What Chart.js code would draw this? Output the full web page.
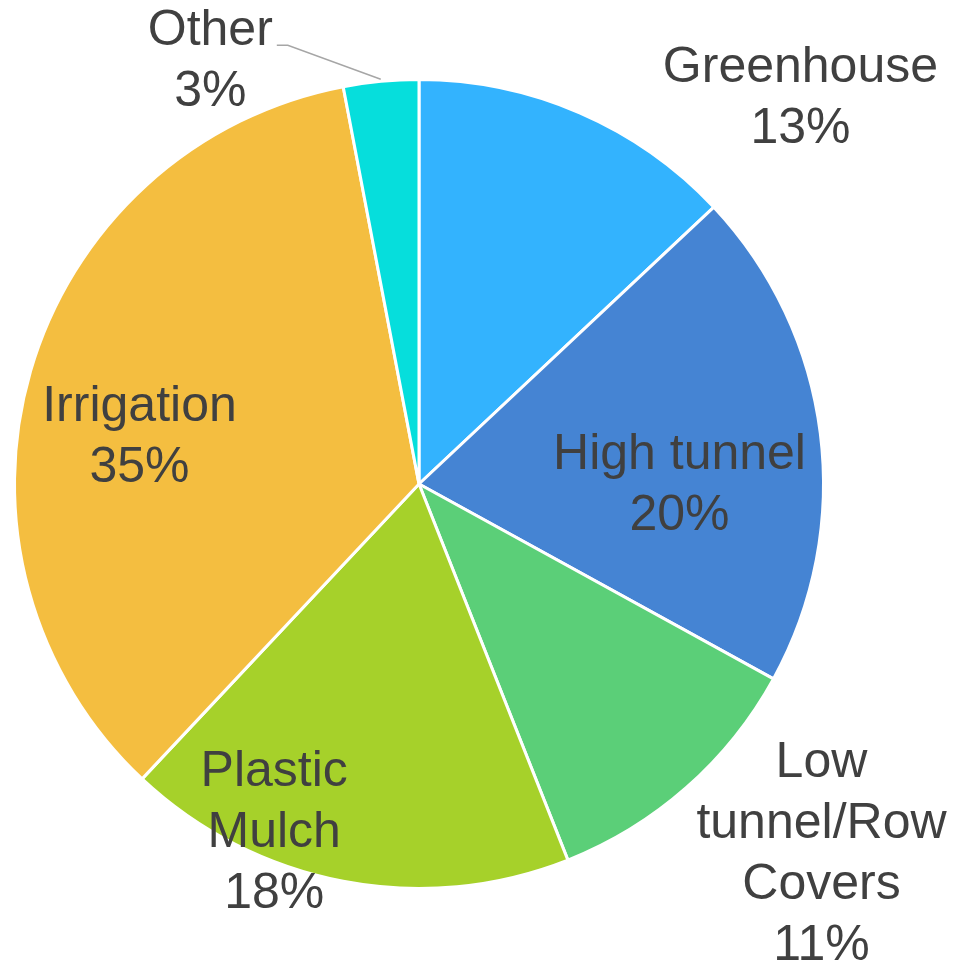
<!DOCTYPE html>
<html>
<head>
<meta charset="utf-8">
<script src="https://cdn.jsdelivr.net/npm/chart.js@4/dist/chart.umd.min.js"></script>
<style>
  html, body { margin: 0; padding: 0; background: #ffffff; }
  #wrap { width: 959px; height: 967px; }
</style>
</head>
<body>
<div id="wrap"><canvas id="pie" width="959" height="967"></canvas></div>
<script>
// Share of practices (percent), clockwise from the top
const categories = ["Greenhouse", "High tunnel", "Low tunnel/Row Covers", "Plastic Mulch", "Irrigation", "Other"];
const shares = [13, 20, 11, 18, 35, 3];
// Text lines shown for each slice
const labelLines = [
  ["Greenhouse"],
  ["High tunnel"],
  ["Low", "tunnel/Row", "Covers"],
  ["Plastic", "Mulch"],
  ["Irrigation"],
  ["Other"]
];
const sliceColors = ["#33B3FE", "#4584D3", "#5BCF78", "#A6D12A", "#F4BE40", "#06DEDC"];

// Label block centres, as fractions of the pie radius from the pie centre
const labelOffsets = [
  [0.943, -0.953],
  [0.644, 0.005],
  [0.995, 0.916],
  [-0.358, 0.864],
  [-0.691, -0.114],
  [-0.516, -1.044]
];
const leaderFor = [false, false, false, false, false, true];

const FONT = '50px "Liberation Sans", Arial, sans-serif';
const LINE_H = 61;

const labelPlugin = {
  id: 'sliceLabels',
  afterDatasetsDraw(chart) {
    const ctx = chart.ctx;
    const arcs = chart.getDatasetMeta(0).data;
    if (!arcs.length) return;
    const cx = arcs[0].x, cy = arcs[0].y, r = arcs[0].outerRadius;
    ctx.save();
    ctx.font = FONT;
    ctx.fillStyle = '#404040';
    ctx.textAlign = 'center';
    ctx.textBaseline = 'middle';
    arcs.forEach((arc, i) => {
      const lines = labelLines[i].concat([shares[i] + '%']);
      const bx = cx + labelOffsets[i][0] * r;
      const by = cy + labelOffsets[i][1] * r;
      const top = by - (lines.length - 1) * LINE_H / 2;
      lines.forEach((t, k) => ctx.fillText(t, bx, top + k * LINE_H));
      if (leaderFor[i]) {
        // leader from the end of the name line to the slice edge
        const w = ctx.measureText(labelLines[i][0]).width;
        const sx = bx + w / 2 + 4;
        const sy = top + 14;
        const mid = (arc.startAngle + arc.endAngle) / 2;
        const ex = cx + Math.cos(mid) * (r + 2);
        const ey = cy + Math.sin(mid) * (r + 2);
        ctx.strokeStyle = '#A6A6A6';
        ctx.lineWidth = 1.5;
        ctx.beginPath();
        ctx.moveTo(sx, sy);
        ctx.lineTo(sx + 11, sy);
        ctx.lineTo(ex, ey);
        ctx.stroke();
      }
    });
    ctx.restore();
  }
};

new Chart(document.getElementById('pie'), {
  type: 'pie',
  data: {
    labels: categories,
    datasets: [{
      data: shares,
      backgroundColor: sliceColors,
      borderColor: '#ffffff',
      borderWidth: 3
    }]
  },
  options: {
    responsive: false,
    animation: false,
    layout: { padding: { left: 13, right: 134, top: 78, bottom: 77 } },
    plugins: {
      legend: { display: false },
      tooltip: { enabled: false }
    }
  },
  plugins: [labelPlugin]
});
</script>
</body>
</html>
